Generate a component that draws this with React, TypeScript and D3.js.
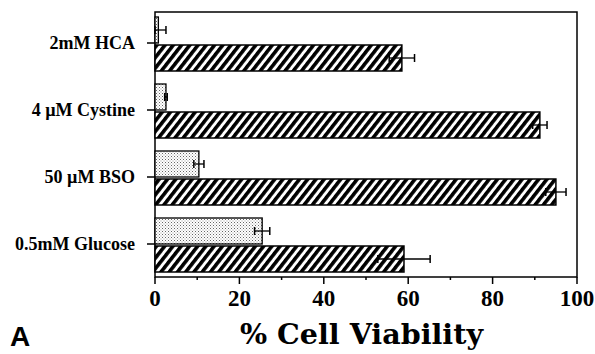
import React, { useRef, useEffect } from 'react';
import * as d3 from 'd3';

const categories = ['2mM HCA', '4 \u00b5M Cystine', '50 \u00b5M BSO', '0.5mM Glucose'];
const dottedValues = [0.8, 2.6, 10.4, 25.4];
const dottedErrors = [1.8, 0.3, 1.2, 1.8];
const hatchedValues = [58.5, 91.2, 95.0, 59.0];
const hatchedErrors = [3.0, 1.7, 2.4, 6.2];
const xTicks = [0, 20, 40, 60, 80, 100];

const App = () => {
  const ref = useRef<SVGSVGElement>(null);

  useEffect(() => {
    const width = 595;
    const height = 354;
    const left = 155, right = 577, top = 12, bottom = 277;

    const svg = d3.select(ref.current);
    svg.selectAll('*').remove();
    svg.attr('width', width).attr('height', height);

    const defs = svg.append('defs');
    const hatch = defs.append('pattern')
      .attr('id', 'hatch')
      .attr('patternUnits', 'userSpaceOnUse')
      .attr('width', 6.5).attr('height', 8)
      .attr('patternTransform', 'rotate(38)');
    hatch.append('rect').attr('width', 6.5).attr('height', 8).attr('fill', '#fff');
    hatch.append('rect').attr('width', 3.6).attr('height', 8).attr('fill', '#000');

    const dots = defs.append('pattern')
      .attr('id', 'dots')
      .attr('patternUnits', 'userSpaceOnUse')
      .attr('width', 3).attr('height', 3);
    dots.append('rect').attr('width', 3).attr('height', 3).attr('fill', '#fff');
    dots.append('rect').attr('width', 1).attr('height', 1).attr('fill', '#666');
    dots.append('rect').attr('x', 1.5).attr('y', 1.5).attr('width', 1).attr('height', 1).attr('fill', '#999');

    const x = d3.scaleLinear().domain([0, 100]).range([left, right]);
    // category tick positions (boundary between the two bars of a group)
    const y = d3.scalePoint().domain(categories).range([43, 244]);
    const barH = 26;

    const serif = '"Liberation Serif", "Times New Roman", serif';

    // frame
    svg.append('rect')
      .attr('x', left).attr('y', top)
      .attr('width', right - left).attr('height', bottom - top)
      .attr('fill', 'none').attr('stroke', '#000').attr('stroke-width', 1.5);

    const groups = svg.selectAll('g.cat')
      .data(categories)
      .enter().append('g')
      .attr('class', 'cat');

    const center = (c: string) => y(c) as number;

    // dotted bars
    groups.append('rect')
      .attr('x', x(0))
      .attr('y', c => center(c) - barH)
      .attr('width', (c, i) => x(dottedValues[i]) - x(0))
      .attr('height', barH)
      .attr('fill', 'url(#dots)')
      .attr('stroke', '#000').attr('stroke-width', 1.3);

    // hatched bars
    groups.append('rect')
      .attr('x', x(0))
      .attr('y', c => center(c) + 2)
      .attr('width', (c, i) => x(hatchedValues[i]) - x(0))
      .attr('height', barH)
      .attr('fill', 'url(#hatch)')
      .attr('stroke', '#000').attr('stroke-width', 1.5);

    const errBar = (g: any, vals: number[], errs: number[], yc: (c: string) => number) => {
      g.append('line')
        .attr('x1', (c: string, i: number) => x(Math.max(0, vals[i] - errs[i])))
        .attr('x2', (c: string, i: number) => x(vals[i] + errs[i]))
        .attr('y1', yc).attr('y2', yc)
        .attr('stroke', '#000').attr('stroke-width', 1.3);
      g.append('line')
        .attr('x1', (c: string, i: number) => x(vals[i] + errs[i]))
        .attr('x2', (c: string, i: number) => x(vals[i] + errs[i]))
        .attr('y1', (c: string) => yc(c) - 4).attr('y2', (c: string) => yc(c) + 4)
        .attr('stroke', '#000').attr('stroke-width', 1.5);
      g.append('line')
        .attr('x1', (c: string, i: number) => x(Math.max(0, vals[i] - errs[i])))
        .attr('x2', (c: string, i: number) => x(Math.max(0, vals[i] - errs[i])))
        .attr('y1', (c: string) => yc(c) - 4).attr('y2', (c: string) => yc(c) + 4)
        .attr('stroke', '#000').attr('stroke-width', 1.5);
    };
    errBar(groups, dottedValues, dottedErrors, c => center(c) - barH / 2);
    errBar(groups, hatchedValues, hatchedErrors, c => center(c) + barH / 2 + 2);

    // category ticks + labels
    groups.append('line')
      .attr('x1', left - 8).attr('x2', left)
      .attr('y1', c => center(c)).attr('y2', c => center(c))
      .attr('stroke', '#000').attr('stroke-width', 1.5);
    groups.append('text')
      .attr('x', 135)
      .attr('y', c => center(c) + 5.5)
      .attr('text-anchor', 'end')
      .attr('font-family', serif)
      .attr('font-weight', 'bold')
      .attr('font-size', 18)
      .text(c => c);

    // x axis ticks (pointing down)
    const minor = d3.range(0, 101, 10);
    svg.selectAll('line.xt')
      .data(minor)
      .enter().append('line')
      .attr('x1', d => x(d)).attr('x2', d => x(d))
      .attr('y1', bottom)
      .attr('y2', d => (d % 20 === 0 ? bottom + 7 : bottom + 3))
      .attr('stroke', '#000').attr('stroke-width', 1.5);
    svg.selectAll('text.xl')
      .data(xTicks)
      .enter().append('text')
      .attr('x', d => x(d))
      .attr('y', 306)
      .attr('text-anchor', 'middle')
      .attr('font-family', serif)
      .attr('font-weight', 'bold')
      .attr('font-size', 23)
      .text(d => d);

    svg.append('text')
      .attr('x', 240).attr('y', 344)
      .attr('textLength', 243)
      .attr('lengthAdjust', 'spacingAndGlyphs')
      .attr('font-family', '"DejaVu Serif", serif')
      .attr('font-weight', 'bold')
      .attr('font-size', 27)
      .text('% Cell Viability');

    svg.append('text')
      .attr('x', 10).attr('y', 346)
      .attr('font-family', '"Liberation Sans", Arial, sans-serif')
      .attr('font-weight', 'bold')
      .attr('font-size', 28)
      .text('A');
  }, []);

  return (
    <svg ref={ref} style={{ position: 'absolute', left: 0, top: 0 }}></svg>
  );
};

export default App;
